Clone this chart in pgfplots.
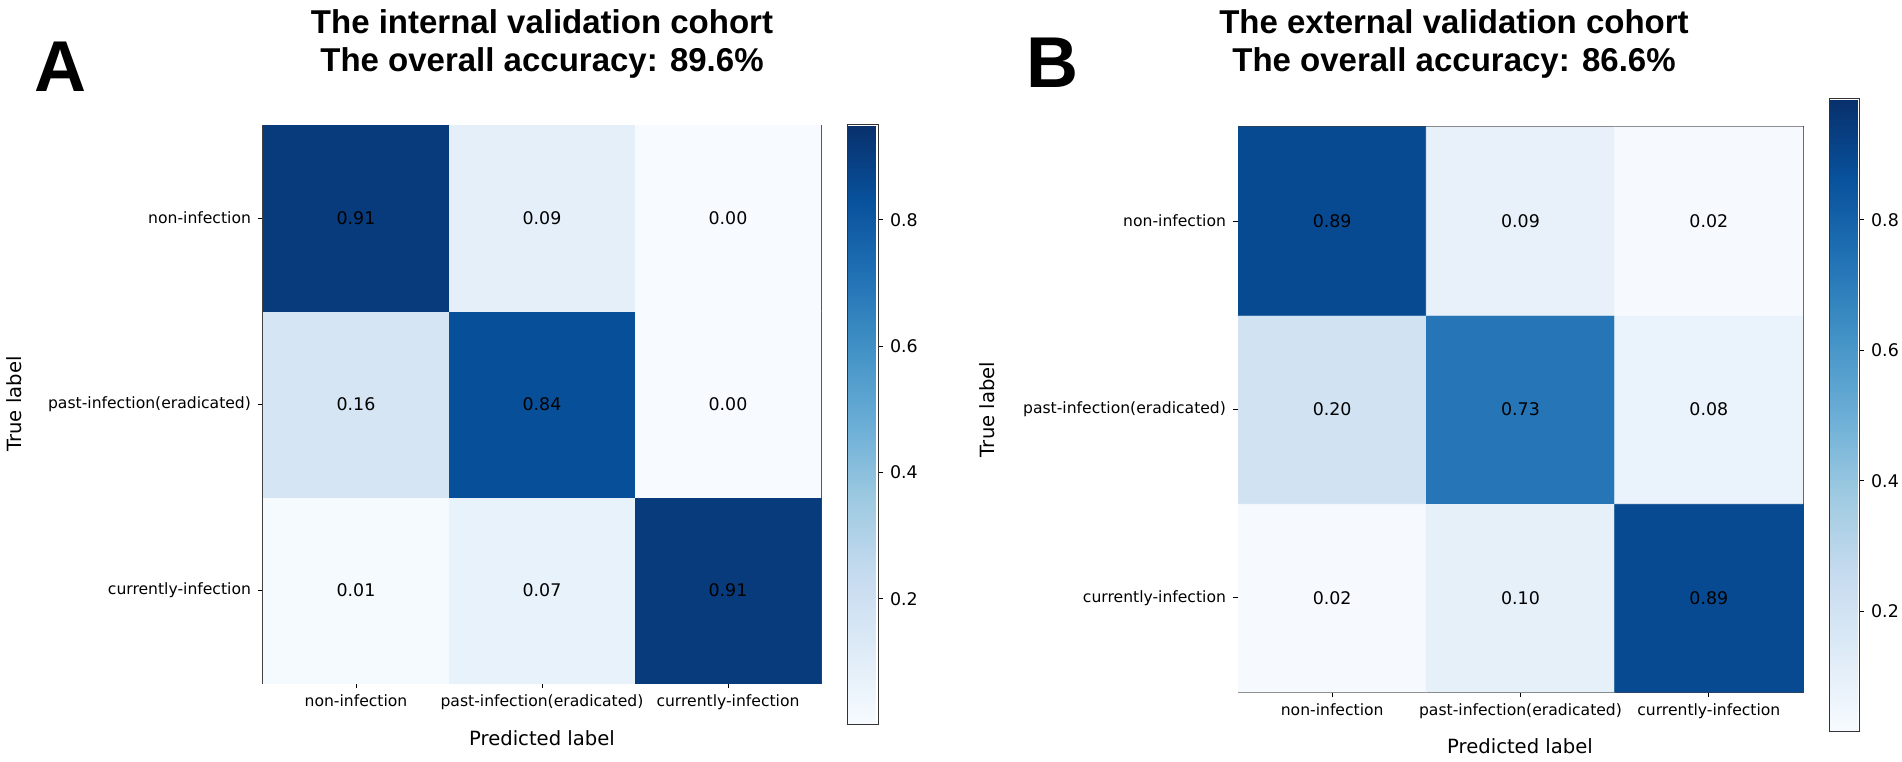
\documentclass[border=0pt]{standalone}
\usepackage{fontspec}
\setmainfont{DejaVu Sans}
\newfontfamily\titlefont{Liberation Sans}
\usepackage{pgfplots}
\pgfplotsset{compat=1.18}

% matplotlib "Blues"
\pgfplotsset{
  colormap={blues}{
    rgb255(0pt)=(247,251,255) rgb255(1pt)=(222,235,247) rgb255(2pt)=(198,219,239)
    rgb255(3pt)=(158,202,225) rgb255(4pt)=(107,174,214) rgb255(5pt)=(66,146,198)
    rgb255(6pt)=(33,113,181) rgb255(7pt)=(8,81,156) rgb255(8pt)=(8,48,107)},
  cm/.style={
    scale only axis, enlargelimits=false,
    xmin=-0.5, xmax=2.5, ymin=-0.5, ymax=2.5,
    xtick={0,1,2}, ytick={0,1,2},
    xticklabels={non-infection,past-infection(eradicated),currently-infection},
    yticklabels={currently-infection,past-infection(eradicated),non-infection},
    tick align=outside, tick pos=left, major tick length=2.5pt,
    tick style={black, line width=0.4pt},
    ticklabel style={font=\fontsize{7.8}{9}\selectfont},
    axis line style={black!75, line width=0.5pt},
    colormap name=blues,
    colorbar,
  },
  cb/.style={
    at={(parent axis.north east)}, anchor=north west,
    scale only axis,
    ytick={0.2,0.4,0.6,0.8},
    yticklabel style={font=\fontsize{8.7}{10}\selectfont,
      /pgf/number format/fixed, /pgf/number format/fixed zerofill,
      /pgf/number format/precision=1, /pgf/number format/assume math mode=true},
    tick align=outside, major tick length=2.5pt, ytick pos=right,
    tick style={black, line width=0.4pt},
    axis line style={black!80, line width=0.5pt},
  },
  vals/.style={draw=none, mark=none, nodes near coords, point meta=explicit symbolic,
    every node near coord/.append style={anchor=center, font=\fontsize{8.7}{10}\selectfont, text=black}},
}

\begin{document}
\begin{tikzpicture}
\useasboundingbox (0,0) rectangle (951pt,380.5pt);

% ---- panel A ----
\begin{axis}[cm, at={(131.5pt,39pt)}, anchor=south west, width=279pt, height=279pt,
  point meta min=0, point meta max=0.95,
  colorbar style={cb, xshift=4.5pt, yshift=0pt, width=15.5pt, height=300pt}]
\addplot[matrix plot*, mesh/cols=3, point meta=explicit] table[meta=v] {
x y v
0 0 0.01
1 0 0.07
2 0 0.91
0 1 0.16
1 1 0.84
2 1 0.00
0 2 0.91
1 2 0.09
2 2 0.00
};
\addplot[vals] table[meta=l] {
x y l
0 0 0.01
1 0 0.07
2 0 0.91
0 1 0.16
1 1 0.84
2 1 0.00
0 2 0.91
1 2 0.09
2 2 0.00
};
\end{axis}

% ---- panel B ----
\begin{axis}[cm, at={(619pt,34.5pt)}, anchor=south west, width=282.5pt, height=282.5pt,
  point meta min=0.015, point meta max=0.985,
  colorbar style={cb, xshift=4.5pt, yshift=14pt, width=15pt, height=316.5pt}]
\addplot[matrix plot*, mesh/cols=3, point meta=explicit] table[meta=v] {
x y v
0 0 0.02
1 0 0.10
2 0 0.89
0 1 0.20
1 1 0.73
2 1 0.08
0 2 0.89
1 2 0.09
2 2 0.02
};
\addplot[vals] table[meta=l] {
x y l
0 0 0.02
1 0 0.10
2 0 0.89
0 1 0.20
1 1 0.73
2 1 0.08
0 2 0.89
1 2 0.09
2 2 0.02
};
\end{axis}

% titles, panel letters, axis labels
\node[font=\titlefont\bfseries\fontsize{16.5}{19}\selectfont, align=center] at (271pt,358.5pt)
  {The internal validation cohort\\The overall accuracy: 89.6\%};
\node[font=\titlefont\bfseries\fontsize{16.5}{19}\selectfont, align=center] at (727pt,358.5pt)
  {The external validation cohort\\The overall accuracy: 86.6\%};
\node[font=\titlefont\bfseries\fontsize{36}{38}\selectfont] at (30pt,347pt) {A};
\node[font=\titlefont\bfseries\fontsize{36}{38}\selectfont] at (526pt,349pt) {B};
\node[rotate=90, font=\fontsize{9.8}{12}\selectfont] at (7pt,178.5pt) {True label};
\node[rotate=90, font=\fontsize{9.8}{12}\selectfont] at (493.5pt,175.75pt) {True label};
\node[font=\fontsize{9.8}{12}\selectfont] at (271pt,11.5pt) {Predicted label};
\node[font=\fontsize{9.8}{12}\selectfont] at (760pt,7.5pt) {Predicted label};
\end{tikzpicture}
\end{document}
